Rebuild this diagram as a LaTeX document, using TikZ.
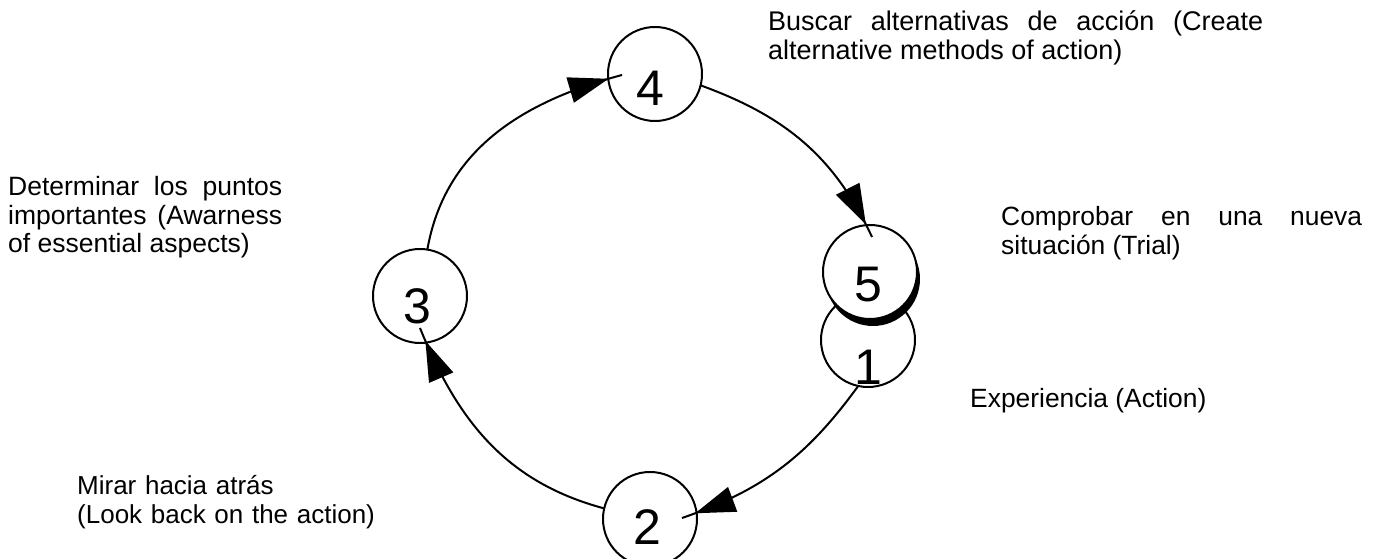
\documentclass[tikz,border=0pt]{standalone}
\usepackage{fontspec}
\setmainfont{Liberation Sans}
\usetikzlibrary{arrows.meta,decorations.markings,shadows}
\newcommand{\txtfont}{\fontsize{26}{28.5}\selectfont}
\newcommand{\bigtxtfont}{\fontsize{27}{28.5}\selectfont\hyphenpenalty=10000\relax}
\newcommand{\lefttxtfont}{\fontsize{26.5}{28.5}\selectfont\hyphenpenalty=10000\relax}
\newcommand{\midtxtfont}{\fontsize{26.4}{29}\selectfont\hyphenpenalty=10000\relax}
\newcommand{\digfont}{\fontsize{50}{50}\selectfont}
\begin{document}
\begin{tikzpicture}[x=1pt,y=1pt,
  circ/.style={circle, draw, line width=2pt, fill=white, minimum size=94pt, inner sep=0pt, outer sep=0pt},
  dig/.style={font=\digfont, inner sep=0pt},
  lab/.style={font=\txtfont, inner sep=0pt, anchor=base west},
  cyc/.style={line width=2pt, postaction={decorate},
    decoration={markings, mark=at position -14pt with {\arrow{Triangle[length=40pt,width=26pt]}}}}
]
\useasboundingbox (0,0) rectangle (1377,559);
% circles
\node[circ, label={[dig, xshift=0pt, yshift=-27pt]center:1}] (c1) at (868,219) {};
\node[circ, drop shadow={shadow xshift=3pt, shadow yshift=-7pt, opacity=1, fill=black},
      label={[dig, xshift=-2pt, yshift=-13pt]center:5}] (c5) at (870,287) {};
\node[circ, label={[dig, xshift=-5pt, yshift=-14pt]center:4}] (c4) at (655,485) {};
\node[circ, label={[dig, xshift=-3pt, yshift=-10pt]center:3}] (c3) at (420,263) {};
\node[circ, label={[dig, xshift=-3pt, yshift=-8pt]center:2}] (c2) at (650,40) {};
% arrow ends
\coordinate (e4) at (622,484);
\coordinate (e5) at (872,322);
\coordinate (e2) at (682,41);
\coordinate (e3) at (420,231);
% connectors
\draw[cyc] (c3.81) to[out=80,in=195] (e4);
\draw[cyc] (c4.-14) to[out=-20,in=115] (e5);
\draw[cyc] (c1.258) to[out=234,in=19] (e2);
\draw[cyc] (c2.167) to[out=165,in=292] (e3);
% texts
\node[lab, font=\bigtxtfont, text width=495pt, align=justify] (t4) at (768,528)
  {Buscar alternativas de acción (Create\linebreak alternative methods of action)};
\node[lab, font=\lefttxtfont, text width=274pt, align=justify] (t3) at (8,363)
  {Determinar los puntos\linebreak importantes (Awarness\linebreak of essential aspects)};
\node[lab, font=\midtxtfont, text width=361pt, align=justify] (t5) at (1001,333)
  {Comprobar en una nueva\linebreak situación (Trial)};
\node[lab, font=\midtxtfont] (t1) at (970,151) {Experiencia (Action)};
\node[lab, text width=320pt, align=left] (t2) at (77,64)
  {Mirar hacia atrás\\(Look back on the action)};
\end{tikzpicture}
\end{document}
